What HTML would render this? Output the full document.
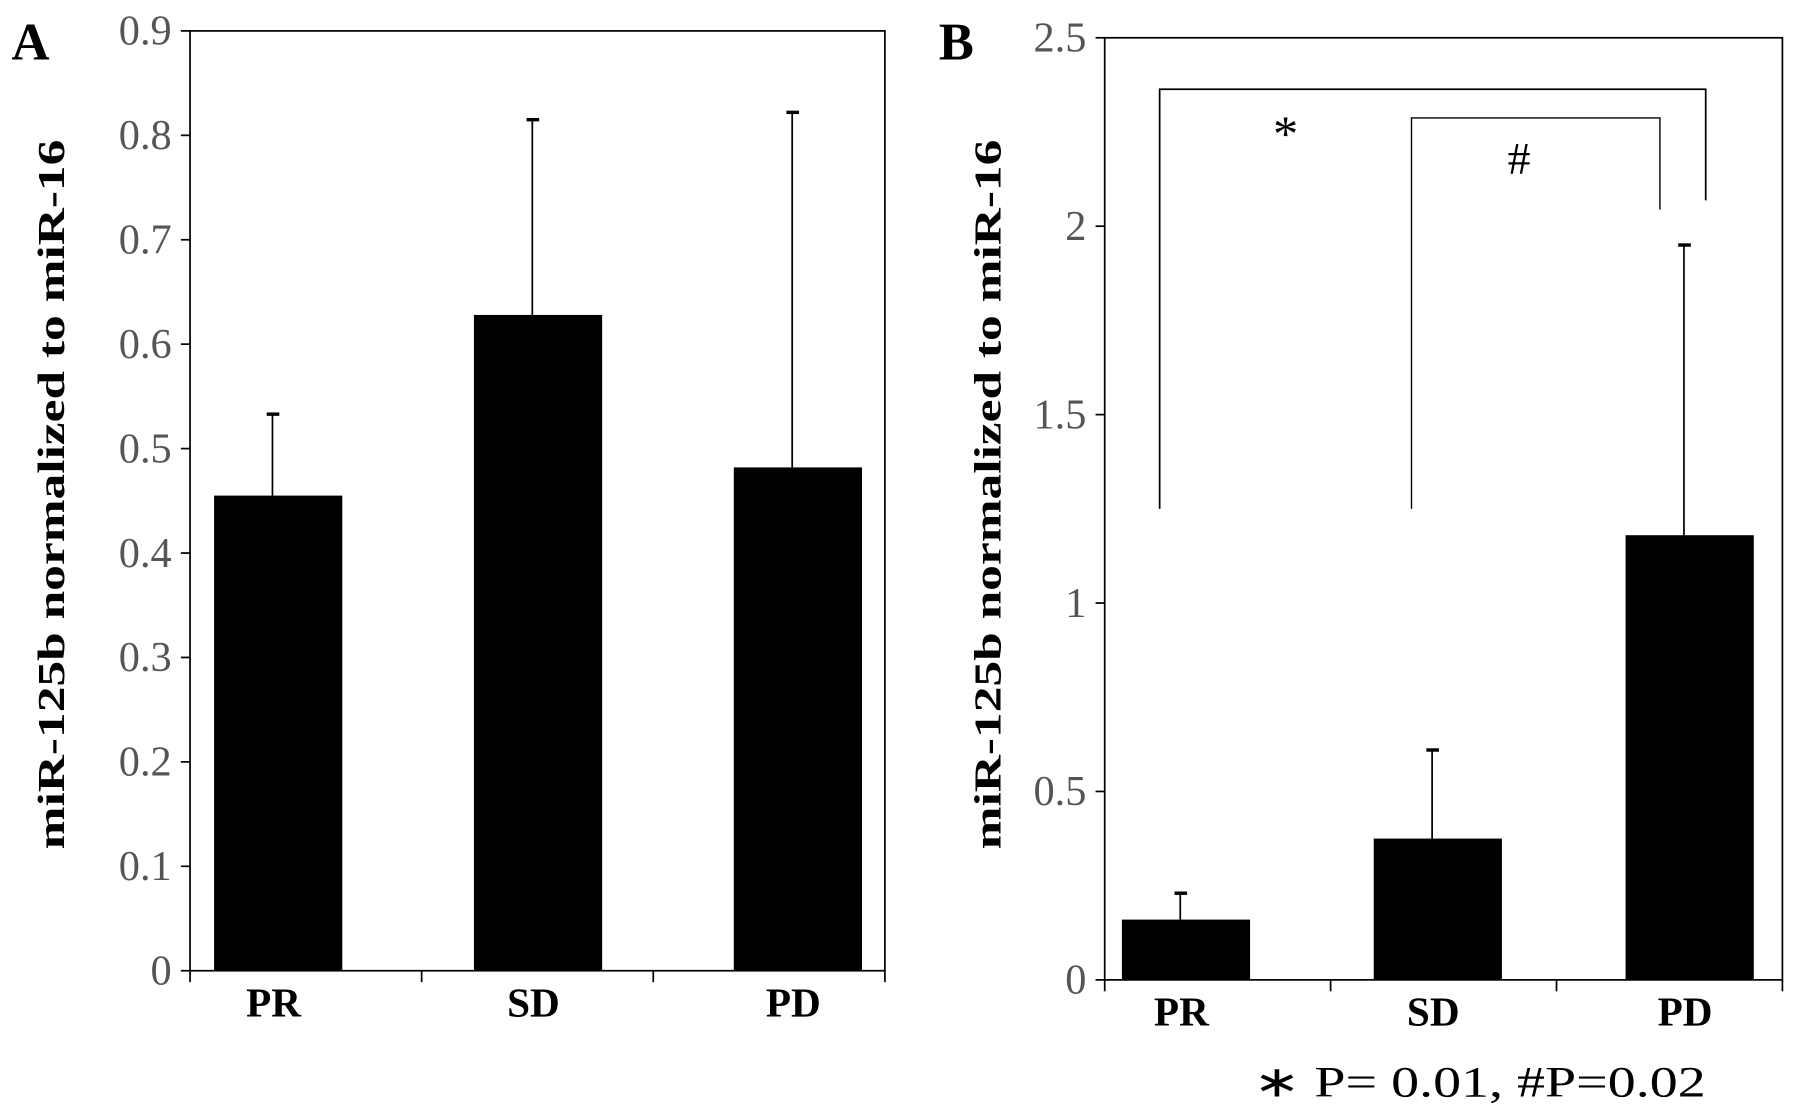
<!DOCTYPE html>
<html><head><meta charset="utf-8">
<style>
html,body{margin:0;padding:0;background:#fff;}
svg{display:block;}
text{font-family:"Liberation Serif",serif;}
</style></head>
<body>
<svg id="chart" width="1795" height="1120" viewBox="0 0 1568 978.4" preserveAspectRatio="none" xmlns="http://www.w3.org/2000/svg">
<g id="pa"></g>
<g id="pb"></g>
</svg>
<script>
const categories = ["PR","SD","PD"];
const valuesA = [0.455, 0.628, 0.482];
const errTopA = [0.533, 0.815, 0.822];
const ticksA = ["0","0.1","0.2","0.3","0.4","0.5","0.6","0.7","0.8","0.9"];
const tickValsA = [0,0.1,0.2,0.3,0.4,0.5,0.6,0.7,0.8,0.9];
const valuesB = [0.16, 0.375, 1.18];
const errTopB = [0.23, 0.61, 1.95];
const ticksB = ["0","0.5","1","1.5","2","2.5"];
const tickValsB = [0,0.5,1,1.5,2,2.5];

const NS="http://www.w3.org/2000/svg";
function mk(parent,tag,attrs,text){const e=document.createElementNS(NS,tag);for(const k in attrs)e.setAttribute(k,attrs[k]);if(text!==undefined)e.textContent=text;parent.appendChild(e);return e;}

function panel(g,cfg,vals,errs,tl,tv){
  const {x0,x1,y0,yT,max,letter,lx,titleX,c0,step}=cfg;
  const ys=v=>y0-(v/max)*(y0-yT);
  const xs=i=>c0+step*i;
  const bw=(x1-x0)/3;
  const frame=mk(g,'rect',{x:x0,y:yT,width:x1-x0,height:y0-yT,fill:'none',stroke:'#000','stroke-width':1.5});
  
  
  tv.forEach((v,i)=>{
    const t=mk(g,'line',{x1:x0-8,x2:x0,y1:ys(v),y2:ys(v),stroke:'#000','stroke-width':1.5});
    
    
    const l=mk(g,'text',{x:x0-16,y:ys(v)+12,'text-anchor':'end','font-size':37,fill:'#555'},tl[i]);
    
    
  });
  for(let i=0;i<=3;i++){
    const t=mk(g,'line',{x1:x0+bw*i,x2:x0+bw*i,y1:y0,y2:y0+10,stroke:'#000','stroke-width':1.5});
    
    
  }
  categories.forEach((c,i)=>{
    const cx=xs(i);
    const el=mk(g,'line',{x1:cx-5,x2:cx-5,y1:ys(vals[i]),y2:ys(errs[i]),stroke:'#000','stroke-width':1.5});
    
    
    const cap=mk(g,'line',{x1:cx-10,x2:cx+1,y1:ys(errs[i]),y2:ys(errs[i]),stroke:'#000','stroke-width':3});
    
    
    const b=mk(g,'rect',{x:cx-56,y:ys(vals[i]),width:112,height:y0-ys(vals[i]),fill:'#000'});
    
    
    const l=mk(g,'text',{x:cx-4,y:y0+40,'text-anchor':'middle','font-size':36,'font-weight':'bold'},c);
    
    
  });
  const L=mk(g,'text',{x:lx,y:52,'font-size':46,'font-weight':'bold'},letter);
  
  
  const yt=mk(g,'text',{x:0,y:0,'font-size':33,'font-weight':'bold','text-anchor':'middle',textLength:620,lengthAdjust:'spacingAndGlyphs',transform:`translate(${titleX},${cfg.titleY}) rotate(-90)`},'miR-125b normalized to miR-16');
  
  
  return ys;
}
const pa=document.getElementById('pa'), pb=document.getElementById('pb');
panel(pa,{x0:166,x1:773,y0:848,yT:27,max:0.9,letter:'A',lx:10,titleX:56,titleY:432,c0:243,step:227},valuesA,errTopA,ticksA,tickValsA);
const ysB=panel(pb,{x0:965,x1:1557,y0:856,yT:33,max:2.5,letter:'B',lx:820,titleX:874,titleY:432,c0:1036,step:220},valuesB,errTopB,ticksB,tickValsB);
const br1=mk(pb,'polyline',{points:`1013,${ysB(1.25)} 1013,78 1490,78 1490,175`,fill:'none',stroke:'#000','stroke-width':1.5});


const br2=mk(pb,'polyline',{points:`1233,${ysB(1.25)} 1233,103 1450,103 1450,183`,fill:'none',stroke:'#000','stroke-width':1.2});


const s1=mk(pb,'text',{x:1123,y:132,'text-anchor':'middle','font-size':44},'*');


const s2=mk(pb,'text',{x:1327,y:152,'text-anchor':'middle','font-size':40},'#');


const fn=mk(pb,'text',{x:1095,y:958,'font-size':38,textLength:395,lengthAdjust:'spacingAndGlyphs'},'∗ P= 0.01,  #P=0.02');


</script>
</body></html>
